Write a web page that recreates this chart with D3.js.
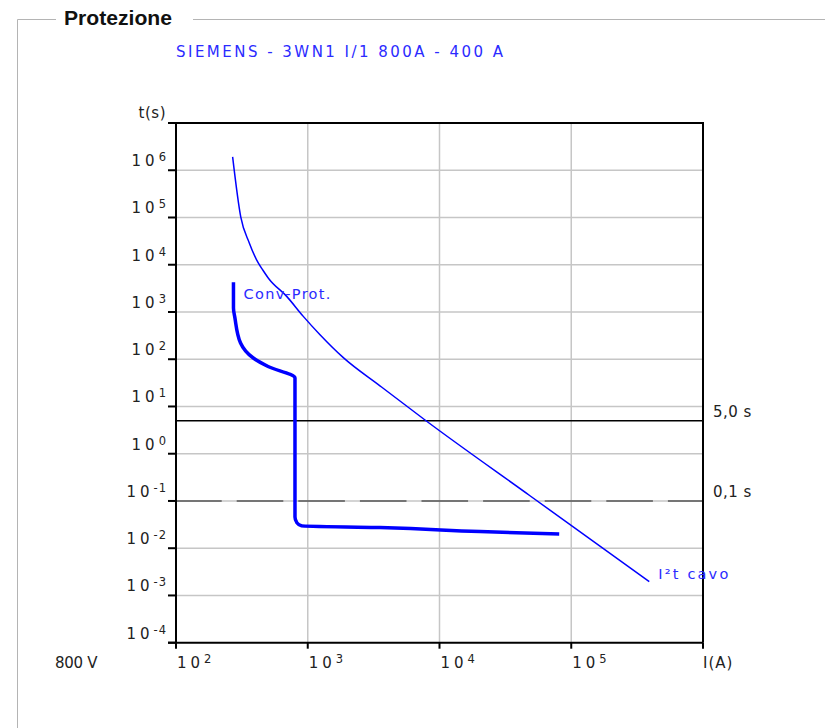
<!DOCTYPE html>
<html>
<head>
<meta charset="utf-8">
<script src="https://cdn.jsdelivr.net/npm/d3@7"></script>
<style>
  body { margin: 0; background: #fff; }
  svg { display: block; }
  text { font-family: "DejaVu Sans", sans-serif; }
</style>
</head>
<body>
<svg id="chart" width="825" height="728"></svg>
<script>
// ---- data -------------------------------------------------------------
const groupLabel = "Protezione";
const title = "SIEMENS - 3WN1 I/1 800A - 400 A";
const voltageLabel = "800 V";
const xAxisName = "I(A)";
const yAxisName = "t(s)";

const xTickExps = [2, 3, 4, 5];
const yTickExps = [6, 5, 4, 3, 2, 1, 0, -1, -2, -3, -4];

// cable withstand curve (I²t)
const cableName = "I²t cavo";
const cableI = [269, 310, 360, 421, 455, 508, 692, 925, 1239, 1862, 3530, 7900, 48600, 391000];
const cableT = [1.92e6, 1.03e5, 2.9e4, 1.09e4, 7.8e3, 5.0e3, 2140, 807, 330, 108, 27.4, 4.98, 0.129, 0.00196];

// breaker tripping curve
const protName = "Conv-Prot.";
const protI = [273, 273, 280, 309, 386, 500, 800, 800, 828, 900, 3530, 20300, 81000];
const protT = [4240, 1220, 750, 220, 106, 70, 40, 0.046, 0.0344, 0.0296, 0.0273, 0.0225, 0.0201];

// reference times
const refTimes = [5.0, 0.1];
const refLabels = ["5,0 s", "0,1 s"];

// ---- layout -----------------------------------------------------------
const svg = d3.select("#chart");
const W = 825, H = 728;
const plot = { left: 176, right: 703, top: 123, bottom: 642.7 };

const x = d3.scaleLog().domain([1e2, 1e6]).range([plot.left, plot.right]);
const y = d3.scaleLog().domain([1e-4, 1e7]).range([plot.bottom, plot.top]);

const blue = "#0000ff";
const textBlue = "#2b2bff";
const gridColor = "#c6c6c6";
const labelColor = "#222";
const fs = 15;

// group box frame
const frame = svg.append("g").attr("stroke", "#b4b4b4").attr("stroke-width", 1).attr("fill", "none");
frame.append("path").attr("d", `M17.5,${H} V19.5 H56`);
frame.append("path").attr("d", `M193,19.5 H${W}`);
svg.append("text")
  .attr("x", 64).attr("y", 25)
  .style("font-family", "'Liberation Sans', Arial, sans-serif")
  .attr("font-weight", "bold").attr("font-size", 20)
  .attr("fill", "#111")
  .attr("textLength", 108).attr("lengthAdjust", "spacingAndGlyphs")
  .text(groupLabel);

// title
svg.append("text")
  .attr("x", 176).attr("y", 57)
  .attr("font-size", 15)
  .attr("fill", textBlue)
  .attr("textLength", 327).attr("lengthAdjust", "spacing")
  .text(title);

// grid
const grid = svg.append("g").attr("stroke", gridColor).attr("stroke-width", 1.5);
grid.selectAll("line.v").data(xTickExps.slice(1)).join("line")
  .attr("x1", d => x(Math.pow(10, d))).attr("x2", d => x(Math.pow(10, d)))
  .attr("y1", plot.top).attr("y2", plot.bottom);
grid.selectAll("line.h").data(yTickExps.filter(e => e > -4)).join("line")
  .attr("x1", plot.left).attr("x2", plot.right)
  .attr("y1", d => y(Math.pow(10, d))).attr("y2", d => y(Math.pow(10, d)));

// reference time lines
svg.append("line")
  .attr("x1", plot.left).attr("x2", plot.right)
  .attr("y1", y(refTimes[0])).attr("y2", y(refTimes[0]))
  .attr("stroke", "#000").attr("stroke-width", 1.5);
svg.append("line")
  .attr("x1", plot.left).attr("x2", plot.right)
  .attr("y1", y(refTimes[1])).attr("y2", y(refTimes[1]))
  .attr("stroke", "#555").attr("stroke-width", 1.5)
  .attr("stroke-dasharray", "46.6 15").attr("stroke-dashoffset", 0.9);
svg.selectAll("text.ref").data(refTimes).join("text")
  .attr("class", "ref")
  .attr("x", plot.right + 10)
  .attr("y", d => y(d) - 4)
  .attr("font-size", fs).attr("fill", labelColor)
  .attr("letter-spacing", 0.5)
  .text((d, i) => refLabels[i]);

// plot frame
const axes = svg.append("g").attr("stroke", "#000").attr("fill", "none");
axes.append("path").attr("stroke-width", 2)
  .attr("d", `M${plot.left - 8},${plot.top} H${plot.right} V${plot.bottom}`);
axes.append("path").attr("stroke-width", 2)
  .attr("d", `M${plot.left},${plot.top} V${plot.bottom}`);
axes.append("path").attr("stroke-width", 2)
  .attr("d", `M${plot.left - 8},${plot.bottom} H${plot.right}`);

// y ticks + labels
axes.selectAll("line.yt").data(yTickExps).join("line")
  .attr("stroke-width", 2)
  .attr("x1", plot.left - 8).attr("x2", plot.left)
  .attr("y1", d => y(Math.pow(10, d))).attr("y2", d => y(Math.pow(10, d)));

const yLab = svg.selectAll("text.yl").data(yTickExps).join("text")
  .attr("class", "yl")
  .attr("x", plot.left - 9)
  .attr("y", d => y(Math.pow(10, d)) - 4)
  .attr("text-anchor", "end")
  .attr("font-size", fs).attr("fill", labelColor);
yLab.append("tspan").attr("letter-spacing", 4).text("10");
yLab.append("tspan").attr("dy", -5).attr("font-size", 11.5).attr("letter-spacing", 1)
  .text(d => d < 0 ? "-" + Math.abs(d) : String(d));

svg.append("text")
  .attr("x", plot.left - 10).attr("y", plot.top - 5)
  .attr("text-anchor", "end").attr("font-size", fs).attr("fill", labelColor)
  .attr("letter-spacing", 0.5)
  .text(yAxisName);

// x ticks + labels
axes.selectAll("line.xt").data(xTickExps.concat([6])).join("line")
  .attr("stroke-width", 2)
  .attr("x1", d => x(Math.pow(10, d))).attr("x2", d => x(Math.pow(10, d)))
  .attr("y1", plot.bottom).attr("y2", plot.bottom + 6);

const xLab = svg.selectAll("text.xl").data(xTickExps).join("text")
  .attr("class", "xl")
  .attr("x", d => x(Math.pow(10, d)) + 1)
  .attr("y", plot.bottom + 25)
  .attr("font-size", fs).attr("fill", labelColor);
xLab.append("tspan").attr("letter-spacing", 4).text("10");
xLab.append("tspan").attr("dy", -5).attr("font-size", 11.5).text(d => String(d));

svg.append("text")
  .attr("x", x(1e6)).attr("y", plot.bottom + 25)
  .attr("font-size", fs).attr("fill", labelColor)
  .attr("letter-spacing", 1)
  .text(xAxisName);
svg.append("text")
  .attr("x", 55).attr("y", plot.bottom + 25)
  .attr("font-size", fs).attr("fill", labelColor)
  .attr("letter-spacing", -0.3)
  .text(voltageLabel);

// curves
svg.append("path")
  .datum(cableI.map((v, i) => [v, cableT[i]]))
  .attr("d", d3.line().x(d => x(d[0])).y(d => y(d[1])).curve(d3.curveMonotoneX))
  .attr("fill", "none").attr("stroke", blue).attr("stroke-width", 1.5);

svg.append("path")
  .datum(protI.map((v, i) => [v, protT[i]]))
  .attr("d", d3.line().x(d => x(d[0])).y(d => y(d[1])).curve(d3.curveMonotoneY))
  .attr("fill", "none").attr("stroke", blue).attr("stroke-width", 3.5)
  .attr("stroke-linejoin", "round");

// curve labels
svg.append("text")
  .attr("x", x(protI[0]) + 10).attr("y", y(protT[0]) + 17)
  .attr("font-size", 14.5).attr("fill", textBlue)
  .attr("textLength", 87).attr("lengthAdjust", "spacing")
  .text(protName);
svg.append("text")
  .attr("x", x(cableI[cableI.length - 1]) + 9).attr("y", y(cableT[cableT.length - 1]) - 3)
  .attr("font-size", 14.5).attr("fill", textBlue)
  .attr("textLength", 70).attr("lengthAdjust", "spacing")
  .text(cableName);
</script>
</body>
</html>
